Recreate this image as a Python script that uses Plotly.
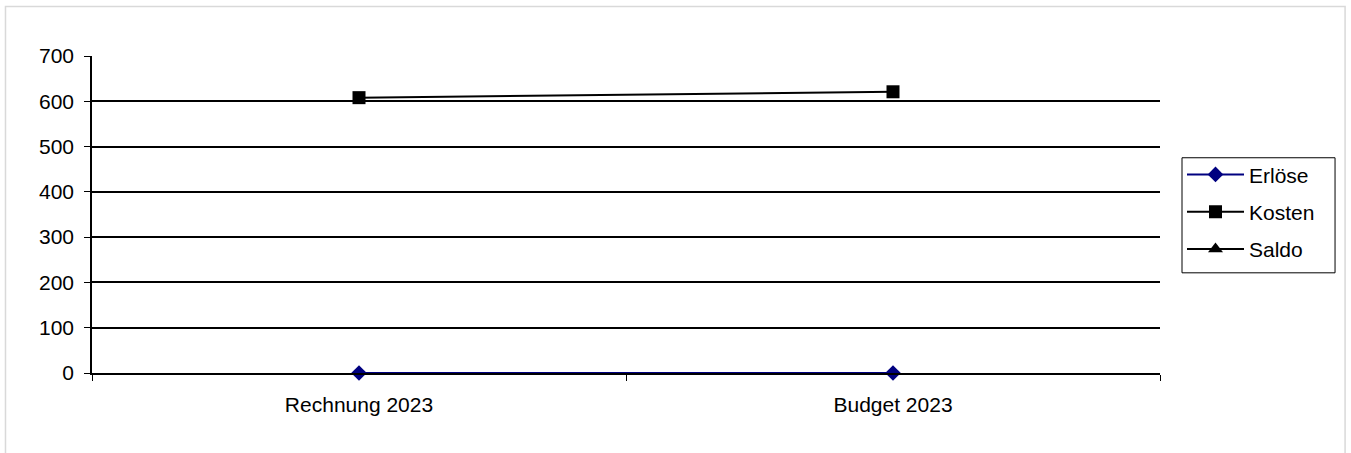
import plotly.graph_objects as go

categories = ["Rechnung 2023", "Budget 2023"]
erloese = [0, 0]
kosten = [608, 621]
saldo = [None, None]
y_ticks = [0, 100, 200, 300, 400, 500, 600, 700]

FONT = "Liberation Sans, Arial, sans-serif"

fig = go.Figure()
fig.add_trace(go.Scatter(x=categories, y=kosten, name="Kosten", mode="lines+markers",
                         line=dict(color="#000000", width=2),
                         marker=dict(symbol="square", size=13, color="#000000"),
                         legendgroup="b", legendrank=2, cliponaxis=False))
fig.add_trace(go.Scatter(x=categories, y=saldo, name="Saldo", mode="lines+markers",
                         line=dict(color="#000000", width=2),
                         marker=dict(symbol="triangle-up", size=13, color="#000000"),
                         legendgroup="c", legendrank=3, cliponaxis=False))
fig.add_trace(go.Scatter(x=categories, y=erloese, name="Erlöse", mode="lines+markers",
                         line=dict(color="#000080", width=2),
                         marker=dict(symbol="diamond", size=12, color="#000080"),
                         legendgroup="a", legendrank=1, cliponaxis=False))

# outer light-gray chart border
fig.add_shape(type="rect", xref="paper", yref="paper",
              x0=-0.081, x1=1.1733, y0=-0.30, y1=1.1564,
              line=dict(color="#d9d9d9", width=1.5), fillcolor="rgba(0,0,0,0)", layer="below")
# legend frame
fig.add_shape(type="rect", xref="paper", yref="paper",
              x0=1.0206, x1=1.1639, y0=0.316, y1=0.679,
              line=dict(color="black", width=1), fillcolor="white", layer="below")

fig.update_layout(
    width=1351, height=453,
    margin=dict(l=92, r=191, t=56, b=80),
    paper_bgcolor="white", plot_bgcolor="white",
    font=dict(family=FONT, size=21, color="black"),
    showlegend=True,
    legend=dict(x=1.0206, y=0.69, xanchor="left", yanchor="top",
                borderwidth=0, bgcolor="rgba(0,0,0,0)",
                font=dict(family=FONT, size=21, color="black"),
                tracegroupgap=7, itemwidth=57, traceorder="grouped"),
    xaxis=dict(type="category", range=[-0.5, 1.5], tickson="boundaries",
               ticks="outside", ticklen=6, tickcolor="black", tickwidth=1,
               showline=True, linecolor="black", linewidth=1.5,
               showgrid=False, zeroline=False, ticklabelstandoff=12,
               tickfont=dict(family=FONT, size=21, color="black")),
    yaxis=dict(range=[0, 700], tickvals=y_ticks, ticks="outside", ticklen=6,
               tickcolor="black", tickwidth=1,
               showline=True, linecolor="black", linewidth=1.5,
               showgrid=True, gridcolor="black", gridwidth=1.5,
               zeroline=False, ticklabelstandoff=6,
               tickfont=dict(family=FONT, size=21, color="black")),
)

fig.write_html("out.html", config={"displayModeBar": False},
               post_script="document.body.style.margin='0';")
